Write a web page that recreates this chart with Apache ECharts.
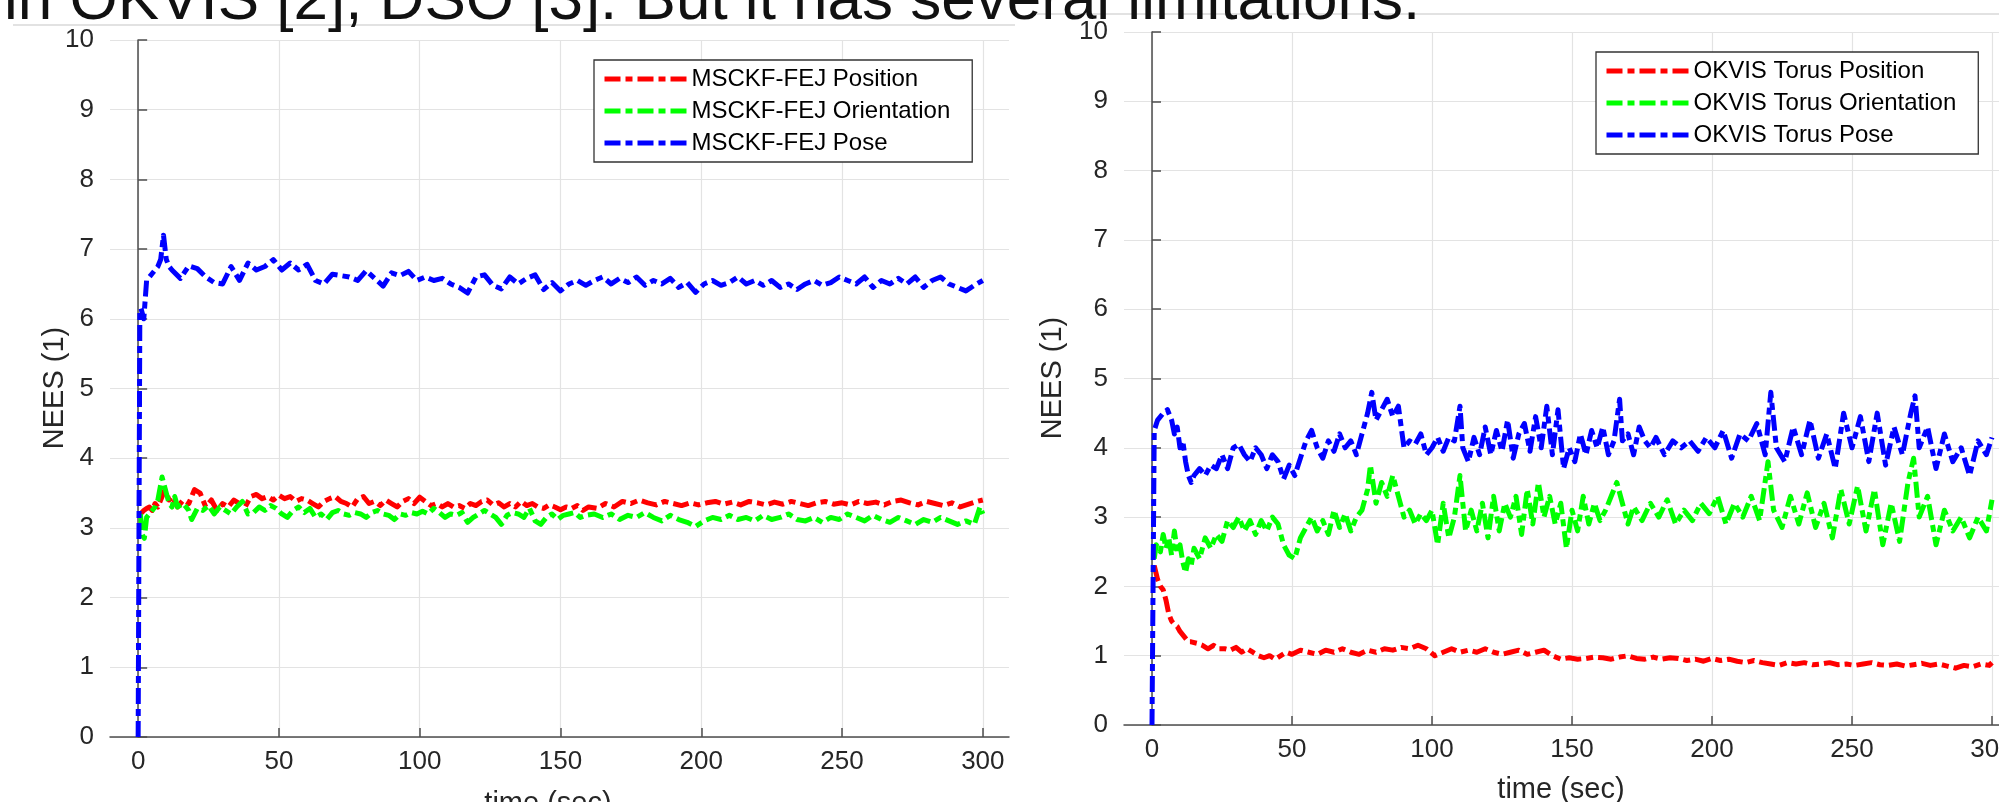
<!DOCTYPE html>
<html>
<head>
<meta charset="utf-8">
<script src="https://cdn.jsdelivr.net/npm/echarts@6/dist/echarts.min.js"></script>
<style>
html,body{margin:0;padding:0;background:#fff;}
#chart{width:1999px;height:802px;}
</style>
</head>
<body>
<div id="chart"></div>
<script>
// ---------- DATA ----------
const xTicks = [0, 50, 100, 150, 200, 250, 300];
const legendLeft = ['MSCKF-FEJ Position', 'MSCKF-FEJ Orientation', 'MSCKF-FEJ Pose'];
const legendRight = ['OKVIS Torus Position', 'OKVIS Torus Orientation', 'OKVIS Torus Pose'];

// left chart: [time (sec), NEES]
const leftPosition = [[0.8,3.2],[2,3.25],[3,3.28],[4,3.3],[5,3.25],[6,3.35],[7,3.3],[8,3.4],[9.5,3.55],[11,3.4],[12,3.45],[14,3.3],[16,3.4],[18,3.35],[20,3.55],[22,3.5],[24,3.3],[26,3.4],[28,3.25],[30,3.35],[32,3.3],[34,3.4],[36,3.35],[38,3.3],[40,3.45],[42,3.48],[44,3.42],[46,3.45],[48,3.4],[50,3.47],[52,3.42],[54,3.45],[56,3.38],[58,3.42],[60,3.4],[62,3.35],[64,3.3],[66,3.38],[68,3.42],[70,3.45],[72,3.38],[74,3.35],[76,3.3],[78,3.42],[80,3.45],[82,3.35],[84,3.38],[86,3.32],[88,3.4],[90,3.35],[92,3.3],[94,3.38],[96,3.42],[98,3.35],[100,3.44],[102,3.38],[104,3.32],[106,3.35],[108,3.3],[110,3.35],[112,3.3],[114,3.32],[116,3.28],[118,3.35],[120,3.32],[122,3.38],[124,3.4],[126,3.33],[128,3.36],[130,3.3],[132,3.35],[134,3.3],[136,3.38],[138,3.32],[140,3.35],[142,3.3],[144,3.28],[146,3.33],[148,3.3],[150,3.26],[152,3.3],[154,3.28],[156,3.32],[158,3.25],[160,3.3],[163,3.28],[166,3.35],[169,3.3],[172,3.38],[175,3.35],[178,3.4],[181,3.36],[184,3.33],[187,3.38],[190,3.35],[193,3.32],[196,3.36],[199,3.33],[202,3.36],[205,3.38],[208,3.34],[211,3.37],[214,3.33],[217,3.38],[220,3.36],[223,3.33],[226,3.37],[229,3.34],[232,3.38],[235,3.35],[238,3.32],[241,3.36],[244,3.38],[247,3.34],[250,3.36],[253,3.33],[256,3.38],[259,3.35],[262,3.37],[265,3.33],[268,3.38],[271,3.4],[274,3.36],[277,3.33],[280,3.38],[283,3.35],[286,3.32],[289,3.36],[292,3.3],[295,3.34],[298,3.38],[300,3.4]];

const leftOrientation = [[0.8,3.2],[1.5,2.9],[2.2,2.85],[3,3.15],[4,3.2],[5,3.25],[6,3.3],[7,3.4],[8.5,3.73],[10,3.5],[11,3.35],[12,3.3],[13,3.45],[14,3.3],[16,3.35],[18,3.25],[19,3.12],[21,3.28],[23,3.25],[25,3.32],[27,3.2],[29,3.3],[31,3.25],[33,3.2],[35,3.3],[37,3.38],[39,3.2],[41,3.22],[43,3.3],[45,3.25],[47,3.32],[49,3.28],[51,3.2],[53,3.15],[55,3.25],[57,3.3],[59,3.22],[61,3.28],[63,3.15],[65,3.2],[67,3.12],[69,3.22],[71,3.25],[73,3.2],[75,3.18],[77,3.22],[79,3.2],[81,3.15],[83,3.22],[85,3.25],[87,3.2],[89,3.18],[91,3.12],[93,3.2],[95,3.18],[97,3.22],[99,3.2],[101,3.24],[103,3.2],[105,3.28],[107,3.22],[109,3.15],[111,3.2],[113,3.18],[115,3.22],[117,3.08],[119,3.15],[121,3.2],[123,3.25],[125,3.2],[127,3.15],[129,3.05],[131,3.18],[133,3.22],[135,3.2],[137,3.15],[139,3.28],[141,3.1],[143,3.05],[145,3.15],[147,3.2],[149,3.12],[151,3.18],[153,3.2],[155,3.22],[157,3.15],[159,3.18],[162,3.2],[165,3.15],[168,3.2],[171,3.12],[174,3.18],[177,3.15],[180,3.22],[183,3.15],[186,3.1],[189,3.18],[192,3.12],[195,3.08],[198,3.02],[201,3.1],[204,3.15],[207,3.12],[210,3.18],[213,3.12],[216,3.15],[219,3.1],[222,3.18],[225,3.12],[228,3.15],[231,3.2],[234,3.12],[237,3.1],[240,3.15],[243,3.08],[246,3.15],[249,3.12],[252,3.2],[255,3.15],[258,3.1],[261,3.18],[264,3.12],[267,3.08],[270,3.15],[273,3.1],[276,3.05],[279,3.12],[282,3.08],[285,3.15],[288,3.1],[291,3.05],[294,3.1],[297,3.05],[299,3.3],[300,3.2]];

const leftPose = [[0,0],[0.6,6.1],[1,6.15],[2,6.0],[3,6.55],[4,6.6],[5,6.65],[6,6.7],[7,6.75],[8,6.85],[9,7.2],[10,6.85],[11,6.75],[12,6.7],[15,6.58],[18,6.76],[21,6.72],[24,6.6],[27,6.52],[30,6.5],[33,6.75],[36,6.55],[39,6.8],[42,6.7],[45,6.75],[48,6.85],[51,6.7],[54,6.8],[57,6.7],[60,6.78],[63,6.55],[66,6.5],[69,6.64],[72,6.62],[75,6.6],[78,6.55],[81,6.69],[84,6.58],[87,6.47],[90,6.66],[93,6.62],[96,6.68],[99,6.55],[102,6.6],[105,6.55],[108,6.58],[111,6.5],[114,6.45],[117,6.37],[120,6.6],[123,6.63],[126,6.48],[129,6.43],[132,6.6],[135,6.5],[138,6.58],[141,6.63],[144,6.42],[147,6.52],[150,6.4],[153,6.5],[156,6.55],[159,6.48],[162,6.55],[165,6.6],[168,6.5],[171,6.58],[174,6.52],[177,6.6],[180,6.48],[183,6.55],[186,6.5],[189,6.58],[192,6.45],[195,6.52],[198,6.38],[201,6.5],[204,6.55],[207,6.48],[210,6.52],[213,6.6],[216,6.5],[219,6.55],[222,6.48],[225,6.55],[228,6.45],[231,6.5],[234,6.42],[237,6.5],[240,6.55],[243,6.48],[246,6.52],[249,6.6],[252,6.55],[255,6.5],[258,6.6],[261,6.45],[264,6.55],[267,6.5],[270,6.58],[273,6.5],[276,6.6],[279,6.45],[282,6.55],[285,6.6],[288,6.5],[291,6.45],[294,6.4],[297,6.48],[300,6.55]];

// right chart: [time (sec), NEES]
const rightPosition = [[0.8,2.3],[2,2.1],[3,2.0],[4,1.95],[5,1.8],[6,1.6],[7,1.5],[8,1.45],[9,1.42],[10,1.35],[11,1.3],[12,1.25],[13,1.2],[14,1.2],[16,1.18],[18,1.15],[20,1.1],[22,1.15],[24,1.1],[26,1.1],[28,1.08],[30,1.12],[32,1.05],[34,1.1],[36,1.05],[38,1.0],[40,0.97],[42,1.0],[44,0.95],[46,1.0],[48,1.05],[50,1.02],[53,1.08],[56,1.05],[59,1.02],[62,1.08],[65,1.05],[68,1.1],[71,1.05],[74,1.02],[77,1.08],[80,1.05],[83,1.1],[86,1.08],[89,1.12],[92,1.1],[95,1.15],[98,1.1],[101,1.0],[104,1.05],[107,1.1],[110,1.05],[113,1.08],[116,1.05],[119,1.1],[122,1.05],[125,1.02],[128,1.05],[131,1.08],[134,1.02],[137,1.05],[140,1.08],[143,1.0],[146,0.95],[149,0.97],[152,0.95],[155,0.96],[158,0.98],[161,0.97],[164,0.95],[167,0.98],[170,1.0],[173,0.96],[176,0.95],[179,0.98],[182,0.95],[185,0.97],[188,0.96],[191,0.93],[194,0.95],[197,0.92],[200,0.96],[203,0.93],[206,0.95],[209,0.92],[212,0.9],[215,0.93],[218,0.9],[221,0.88],[224,0.86],[227,0.9],[230,0.88],[233,0.9],[236,0.87],[239,0.88],[242,0.9],[245,0.87],[248,0.88],[251,0.86],[254,0.88],[257,0.9],[260,0.87],[263,0.86],[266,0.88],[269,0.85],[272,0.87],[275,0.89],[278,0.86],[281,0.88],[284,0.85],[287,0.82],[290,0.86],[293,0.84],[296,0.88],[299,0.86],[300,0.9]];

const rightOrientation = [[0.8,2.4],[1.5,2.6],[3,2.5],[4,2.75],[5,2.55],[6,2.7],[7,2.45],[8,2.8],[9,2.5],[10,2.6],[11,2.35],[12,2.2],[13,2.4],[14,2.3],[15,2.55],[17,2.4],[19,2.7],[21,2.55],[23,2.75],[25,2.65],[27,2.95],[29,2.85],[31,3.0],[33,2.8],[35,2.95],[37,2.75],[39,2.95],[41,2.8],[43,3.0],[45,2.9],[47,2.6],[49,2.45],[51,2.4],[53,2.7],[55,2.85],[57,3.0],[59,2.8],[61,2.95],[63,2.75],[65,3.1],[67,2.85],[69,3.05],[71,2.8],[73,3.0],[75,3.1],[77,3.4],[78,3.75],[80,3.2],[82,3.5],[84,3.3],[86,3.6],[88,3.3],[90,3.0],[92,3.1],[94,2.9],[96,3.05],[98,2.95],[100,3.1],[102,2.6],[104,3.2],[106,2.7],[108,3.0],[110,3.6],[112,2.8],[114,3.1],[116,2.8],[118,3.2],[120,2.7],[122,3.3],[124,2.8],[126,3.2],[128,3.0],[130,3.3],[132,2.75],[134,3.4],[136,2.9],[138,3.5],[140,3.0],[142,3.3],[144,2.9],[146,3.2],[148,2.55],[150,3.1],[152,2.8],[154,3.3],[156,2.9],[158,3.2],[160,2.95],[162,3.1],[164,3.3],[166,3.5],[168,3.2],[170,2.9],[172,3.15],[175,2.95],[178,3.2],[181,3.0],[184,3.25],[187,2.9],[190,3.1],[193,2.95],[196,3.2],[199,3.05],[202,3.3],[205,2.9],[208,3.2],[211,3.0],[214,3.3],[217,2.95],[220,3.8],[222,3.1],[225,2.85],[228,3.3],[231,2.9],[234,3.35],[237,2.85],[240,3.2],[243,2.7],[246,3.4],[249,2.9],[252,3.45],[255,2.8],[258,3.4],[261,2.6],[264,3.2],[267,2.65],[270,3.5],[272,3.85],[274,3.0],[277,3.3],[280,2.6],[283,3.1],[286,2.8],[289,3.0],[292,2.7],[295,3.0],[298,2.8],[300,3.25]];

const rightPose = [[0,0],[0.8,4.25],[2,4.4],[4,4.5],[5.5,4.55],[7,4.4],[8,4.2],[9,4.3],[10,4.0],[11,4.1],[12,3.8],[13,3.6],[14,3.5],[15,3.6],[17,3.7],[19,3.6],[21,3.75],[23,3.7],[25,3.9],[27,3.7],[29,4.0],[31,4.05],[33,3.9],[35,3.8],[37,4.0],[39,3.9],[41,3.7],[43,3.9],[45,3.8],[47,3.55],[49,3.75],[51,3.6],[53,3.85],[55,4.1],[57,4.25],[59,4.0],[61,3.85],[63,4.1],[65,3.95],[67,4.2],[69,4.0],[71,4.1],[73,3.9],[75,4.2],[77,4.5],[78.5,4.8],[80,4.4],[82,4.55],[84,4.7],[86,4.45],[88,4.6],[90,4.0],[92,4.1],[94,4.05],[96,4.2],[98,3.9],[100,4.0],[102,4.15],[104,3.95],[106,4.15],[108,4.1],[110,4.6],[111,4.0],[113,3.8],[115,4.15],[117,3.9],[119,4.3],[121,3.9],[123,4.25],[125,3.95],[127,4.4],[129,3.85],[131,4.2],[133,4.35],[135,3.95],[137,4.45],[139,4.0],[141,4.6],[143,3.9],[145,4.55],[147,3.7],[149,4.0],[151,3.8],[153,4.2],[155,3.9],[157,4.25],[159,4.0],[161,4.3],[163,3.9],[165,4.1],[167,4.7],[168,4.1],[170,4.2],[172,3.9],[174,4.3],[176,4.1],[178,4.0],[180,4.15],[183,3.9],[186,4.1],[189,4.0],[192,4.1],[195,3.95],[198,4.15],[201,4.0],[204,4.25],[207,3.85],[210,4.2],[213,4.1],[216,4.35],[219,3.9],[221,4.8],[223,4.0],[226,3.8],[229,4.3],[232,3.9],[235,4.4],[238,3.85],[241,4.2],[244,3.7],[247,4.5],[250,4.0],[253,4.45],[256,3.8],[259,4.5],[262,3.75],[265,4.3],[268,3.9],[271,4.5],[272.5,4.75],[274,4.0],[277,4.3],[280,3.7],[283,4.2],[286,3.8],[289,4.0],[292,3.6],[295,4.1],[298,3.9],[300,4.15]];

// ---------- CHART ----------
const FONT = '"Liberation Sans", Arial, Helvetica, sans-serif';
const TXT = '#262626';
const AX = '#4d4d4d';
const DASH = [16, 5, 7, 5];

function xAxisCfg(gi, xmax) {
  return {
    type: 'value', gridIndex: gi, min: -10, max: xmax,
    axisLine: { show: true, onZero: false, lineStyle: { color: AX, width: 1.5 } },
    axisTick: { show: true, inside: true, length: 9, customValues: xTicks, lineStyle: { color: AX, width: 1.5 } },
    axisLabel: { show: true, customValues: xTicks, fontSize: 26, color: TXT, fontFamily: FONT, margin: 12, hideOverlap: false },
    splitLine: { show: true, lineStyle: { color: '#e3e3e3', width: 1.2 } }
  };
}
function yAxisCfg(gi) {
  return {
    type: 'value', gridIndex: gi, min: 0, max: 10, interval: 1,
    axisLine: { show: true, lineStyle: { color: AX, width: 1.5 } },
    axisTick: { show: true, inside: true, length: 9, lineStyle: { color: AX, width: 1.5 } },
    axisLabel: { fontSize: 26, color: TXT, fontFamily: FONT, margin: 16 },
    splitLine: { show: true, lineStyle: { color: '#e3e3e3', width: 1.2 } }
  };
}
function lineSeries(name, data, color, gi) {
  return {
    type: 'line', name: name, data: data, xAxisIndex: gi, yAxisIndex: gi,
    symbol: 'none', showSymbol: false, animation: false,
    lineStyle: { color: color, width: 5, type: DASH, cap: 'butt', join: 'round' },
    itemStyle: { color: color }
  };
}
function legendCfg(names, left, top) {
  return {
    data: names, left: left, top: top, orient: 'vertical',
    itemWidth: 82, itemHeight: 14, itemGap: 6,
    padding: [6, 22, 6, 8],
    borderColor: '#333', borderWidth: 1.3, backgroundColor: '#fff',
    itemStyle: { opacity: 0 },
    lineStyle: { width: 5, type: DASH },
    textStyle: { fontSize: 24, color: '#000', fontFamily: FONT, lineHeight: 26, padding: [0,0,0,0] },
    selectedMode: false
  };
}

const chart = echarts.init(document.getElementById('chart'), null, { renderer: 'canvas' });
chart.setOption({
  backgroundColor: '#fff',
  animation: false,
  grid: [
    { left: 110, top: 40, width: 899, height: 697, containLabel: false, outerBoundsMode: 'none' },
    { left: 1124, top: 32, width: 875, height: 693, containLabel: false, outerBoundsMode: 'none' }
  ],
  xAxis: [xAxisCfg(0, 309.3), xAxisCfg(1, 302.5)],
  yAxis: [yAxisCfg(0), yAxisCfg(1)],
  legend: [legendCfg(legendLeft, 594, 60), legendCfg(legendRight, 1596, 52)],
  series: [
    lineSeries(legendLeft[0], leftPosition, '#ff0000', 0),
    lineSeries(legendLeft[1], leftOrientation, '#00ff00', 0),
    lineSeries(legendLeft[2], leftPose, '#0000ff', 0),
    lineSeries(legendRight[0], rightPosition, '#ff0000', 1),
    lineSeries(legendRight[1], rightOrientation, '#00ff00', 1),
    lineSeries(legendRight[2], rightPose, '#0000ff', 1)
  ],
  graphic: [
    { type: 'text', x: 4, y: 2, z: 10, style: { text: 'in OKVIS [2], DSO [3]. But it has several limitations.', font: '62px ' + FONT, fill: '#111', textVerticalAlign: 'middle' } },
    { type: 'line', z: 9, shape: { x1: 13, y1: 25, x2: 1015, y2: 25 }, style: { stroke: '#e2e2e2', lineWidth: 2 } },
    { type: 'line', z: 9, shape: { x1: 1037, y1: 14, x2: 1999, y2: 14 }, style: { stroke: '#e2e2e2', lineWidth: 2 } },
    { type: 'text', x: 55, y: 388, rotation: Math.PI / 2, z: 10, style: { text: 'NEES (1)', font: '29px ' + FONT, fill: TXT, textAlign: 'center', textVerticalAlign: 'middle' } },
    { type: 'text', x: 1053, y: 378, rotation: Math.PI / 2, z: 10, style: { text: 'NEES (1)', font: '29px ' + FONT, fill: TXT, textAlign: 'center', textVerticalAlign: 'middle' } },
    { type: 'text', x: 548, y: 804, z: 10, style: { text: 'time (sec)', font: '29px ' + FONT, fill: TXT, textAlign: 'center', textVerticalAlign: 'middle' } },
    { type: 'text', x: 1561, y: 790, z: 10, style: { text: 'time (sec)', font: '29px ' + FONT, fill: TXT, textAlign: 'center', textVerticalAlign: 'middle' } }
  ]
});
</script>
</body>
</html>
